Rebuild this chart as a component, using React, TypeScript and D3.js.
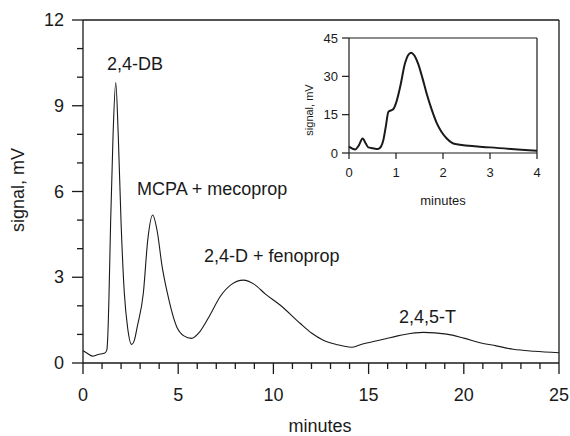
import React from "react";
import * as d3 from "d3";

const mainTime = [0, 0.2, 0.5, 0.8, 1.15, 1.25, 1.3, 1.36, 1.45, 1.58, 1.72, 1.85, 2.0, 2.17, 2.35, 2.55, 2.7, 2.85, 3.17, 3.4, 3.66, 3.9, 4.15, 4.43, 4.92, 5.3, 5.7, 6.14, 6.67, 7.2, 7.8, 8.42, 9.0, 9.6, 10.35, 11.4, 12.0, 12.62, 13.3, 14.1, 14.6, 15.25, 15.9, 16.47, 16.9, 17.87, 19.1, 20.0, 20.85, 21.7, 22.6, 23.7, 25];
const mainSignal = [0.43, 0.35, 0.24, 0.3, 0.35, 0.45, 0.9, 2.2, 4.9, 8.0, 9.81, 8.0, 4.9, 2.45, 1.2, 0.65, 0.8, 1.27, 2.45, 4.3, 5.18, 4.6, 3.4, 2.45, 1.27, 0.95, 0.86, 1.1, 1.68, 2.32, 2.75, 2.9, 2.75, 2.4, 2.03, 1.39, 1.05, 0.8, 0.65, 0.55, 0.65, 0.75, 0.85, 0.94, 1.0, 1.07, 1.01, 0.87, 0.71, 0.6, 0.48, 0.41, 0.36];

const insetTime = [0, 0.13, 0.21, 0.29, 0.36, 0.41, 0.5, 0.62, 0.68, 0.73, 0.78, 0.84, 0.94, 1.0, 1.09, 1.19, 1.32, 1.47, 1.56, 1.65, 1.76, 1.87, 1.97, 2.08, 2.26, 3.0, 4.0];
const insetSignal = [2.5, 1.4, 3.0, 5.7, 3.6, 2.2, 1.9, 1.6, 2.5, 5.0, 10.0, 16.2, 17.1, 19.5, 26.0, 35.0, 39.2, 35.0, 29.5, 23.4, 17.0, 11.6, 8.2, 5.7, 3.5, 2.2, 0.9];

const mainXTicks = [0, 5, 10, 15, 20, 25];
const mainXMinor = d3.range(0, 26, 1);
const mainYTicks = [0, 3, 6, 9, 12];
const mainYMinor = d3.range(0, 13, 1);
const insetXTicks = [0, 1, 2, 3, 4];
const insetYTicks = [0, 15, 30, 45];

const peakLabels = [
  { text: "2,4-DB", x: 107, y: 70 },
  { text: "MCPA + mecoprop", x: 137, y: 195 },
  { text: "2,4-D + fenoprop", x: 204, y: 262 },
  { text: "2,4,5-T", x: 399, y: 323 },
];

const FONT = "'Liberation Sans', Arial, Helvetica, sans-serif";
const INK = "#1a1a1a";

export default function App() {
  const x = d3.scaleLinear().domain([0, 25]).range([83, 559]);
  const y = d3.scaleLinear().domain([0, 12]).range([363, 20]);
  const xi = d3.scaleLinear().domain([0, 4]).range([349, 537]);
  const yi = d3.scaleLinear().domain([0, 45]).range([153, 38]);

  const mainLine = d3
    .line<number>()
    .x((_, i) => x(mainTime[i]))
    .y((d) => y(d))
    .curve(d3.curveMonotoneX);
  const insetLine = d3
    .line<number>()
    .x((_, i) => xi(insetTime[i]))
    .y((d) => yi(d))
    .curve(d3.curveMonotoneX);

  return (
    <svg
      width={570}
      height={436}
      style={{ position: "absolute", left: 0, top: 0, background: "#fff" }}
      fontFamily={FONT}
    >
      <rect x={0} y={0} width={570} height={436} fill="#fff" />
      {/* main frame */}
      <g stroke={INK} strokeWidth={1.3} fill="none">
        <line x1={x(0)} x2={x(25)} y1={y(12)} y2={y(12)} />
        <line x1={x(25)} x2={x(25)} y1={y(12)} y2={y(0)} />
        <line x1={x(0)} x2={x(25)} y1={y(0)} y2={y(0)} />
        <line x1={x(0)} x2={x(0)} y1={y(12)} y2={y(0)} />
        {mainXMinor.map((t) => (
          <line key={"xm" + t} x1={x(t)} x2={x(t)} y1={y(0)} y2={y(0) + (t % 5 === 0 ? 11 : 6)} />
        ))}
        {mainYMinor.map((v) => (
          <line key={"ym" + v} x1={x(0) - (v % 3 === 0 ? 11 : 6)} x2={x(0)} y1={y(v)} y2={y(v)} />
        ))}
      </g>
      <g fill={INK} fontSize={18}>
        {mainXTicks.map((t) => (
          <text key={"xl" + t} x={x(t)} y={401} textAnchor="middle">
            {t}
          </text>
        ))}
        {mainYTicks.map((v) => (
          <text key={"yl" + v} x={64} y={y(v)} textAnchor="end" dominantBaseline="central">
            {v}
          </text>
        ))}
        <text x={320} y={432} textAnchor="middle">minutes</text>
        <text transform="translate(24,190) rotate(-90)" textAnchor="middle">signal, mV</text>
        {peakLabels.map((p) => (
          <text key={p.text} x={p.x} y={p.y}>
            {p.text}
          </text>
        ))}
      </g>
      <path d={mainLine(mainSignal) || ""} fill="none" stroke={INK} strokeWidth={1.1} />

      {/* inset */}
      <g stroke={INK} strokeWidth={1.2} fill="none">
        <line x1={xi(0)} x2={xi(4)} y1={yi(45)} y2={yi(45)} />
        <line x1={xi(4)} x2={xi(4)} y1={yi(45)} y2={yi(0)} />
        <line x1={xi(0)} x2={xi(4)} y1={yi(0)} y2={yi(0)} />
        <line x1={xi(0)} x2={xi(0)} y1={yi(45)} y2={yi(0)} />
        {insetXTicks.map((t) => (
          <line key={"ixt" + t} x1={xi(t)} x2={xi(t)} y1={yi(0)} y2={yi(0) + 6} />
        ))}
        {insetYTicks.map((v) => (
          <line key={"iyt" + v} x1={xi(0) - 7} x2={xi(0)} y1={yi(v)} y2={yi(v)} />
        ))}
      </g>
      <g fill={INK} fontSize={13}>
        {insetXTicks.map((t) => (
          <text key={"ixl" + t} x={xi(t)} y={177} textAnchor="middle">
            {t}
          </text>
        ))}
        {insetYTicks.map((v) => (
          <text key={"iyl" + v} x={338} y={yi(v)} textAnchor="end" dominantBaseline="central">
            {v}
          </text>
        ))}
        <text x={443} y={205} textAnchor="middle">minutes</text>
        <text transform="translate(313,110) rotate(-90)" textAnchor="middle" fontSize={11}>
          signal, mV
        </text>
      </g>
      <path d={insetLine(insetSignal) || ""} fill="none" stroke={INK} strokeWidth={2} />
    </svg>
  );
}
